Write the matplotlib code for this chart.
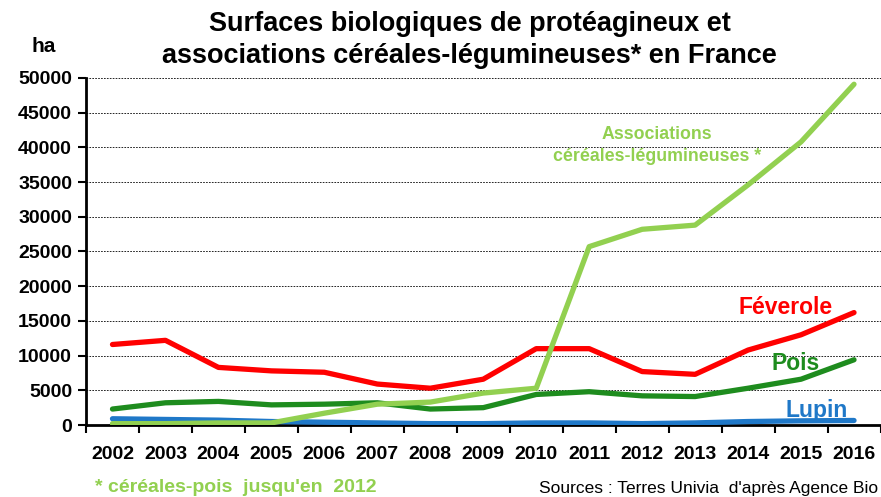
import numpy as np
import matplotlib.pyplot as plt

years = list(range(2002, 2017))
feverole = [11600, 12200, 8300, 7800, 7600, 5900, 5300, 6600, 11000, 11000, 7700, 7300, 10800, 13000, 16200]
pois = [2300, 3200, 3400, 2900, 3000, 3200, 2300, 2500, 4400, 4800, 4200, 4100, 5300, 6600, 9400]
lupin = [900, 800, 700, 500, 400, 300, 200, 200, 300, 300, 200, 300, 500, 600, 650]
associations = [200, 200, 300, 300, 1700, 3000, 3300, 4600, 5300, 25700, 28200, 28800, 34600, 40800, 49100]

c_fev = '#ff0000'
c_pois = '#1e8c1e'
c_lupin = '#1f78c8'
c_asso = '#92d050'

plt.rcParams['font.family'] = ['Liberation Sans', 'DejaVu Sans']

fig = plt.figure(figsize=(8.81, 4.97), dpi=100)
ax = fig.add_axes([86 / 881, 1 - 425 / 497, 794.5 / 881, 347 / 497])

x = np.arange(len(years))
lw = 3.8
ax.plot(x, lupin, color=c_lupin, lw=lw, solid_capstyle='round', zorder=3)
ax.plot(x, associations, color=c_asso, lw=lw, solid_capstyle='round', zorder=4)
ax.plot(x, pois, color=c_pois, lw=lw, solid_capstyle='round', zorder=3)
ax.plot(x, feverole, color=c_fev, lw=lw, solid_capstyle='round', zorder=3)

ax.set_xlim(-0.5, len(years) - 0.5)
ax.set_ylim(0, 50000)
ax.set_yticks(np.arange(0, 50001, 5000))
ax.yaxis.grid(True, color='black', lw=0.6, ls=(0, (2, 1.5)))
ax.set_axisbelow(True)

ax.set_xticks(np.arange(-0.5, len(years), 1))
ax.set_xticklabels([])
ax.set_xticks(x, minor=True)
ax.set_xticklabels([str(y) for y in years], minor=True)
ax.tick_params(axis='x', which='major', length=6, width=1.5, direction='out')
ax.tick_params(axis='x', which='minor', length=0, pad=15)
ax.tick_params(axis='y', length=6, width=1.5, direction='out', pad=4)

narrow = ['Liberation Sans Narrow', 'Liberation Sans', 'DejaVu Sans']
for lab in ax.get_xticklabels(minor=True) + ax.get_yticklabels():
    lab.set_fontfamily(narrow)
    lab.set_fontweight('bold')
    lab.set_fontsize(14)

for side in ['top', 'right']:
    ax.spines[side].set_visible(False)
ax.spines['left'].set_linewidth(2)
ax.spines['bottom'].set_linewidth(2)

fig.text(0.533, 1 - 40 / 497, "Surfaces biologiques de protéagineux et\nassociations céréales-légumineuses* en France",
         ha='center', va='center', fontsize=19.5, fontweight='heavy', linespacing=1.3)
fig.text(44 / 881, 1 - 47 / 497, "ha", ha='center', va='center', fontsize=15,
         fontweight='bold', family=narrow)

ax.text(10.28, 40300, "Associations\ncéréales-légumineuses *", color=c_asso, ha='center', va='center',
        fontsize=12.8, fontweight='bold', linespacing=1.4)
ax.text(12.7, 17000, "Féverole", color=c_fev, ha='center', va='center', fontsize=16.5, fontweight='bold')
ax.text(12.9, 8900, "Pois", color=c_pois, ha='center', va='center', fontsize=16.5, fontweight='bold')
ax.text(13.3, 2150, "Lupin", color=c_lupin, ha='center', va='center', fontsize=16.5, fontweight='bold')

fig.text(95 / 881, 1 - 488 / 497, "* céréales-pois  jusqu'en  2012", color=c_asso, ha='left', va='center',
         fontsize=14, fontweight='bold')
fig.text(878 / 881, 1 - 488 / 497, "Sources : Terres Univia  d'après Agence Bio", color='black',
         ha='right', va='center', fontsize=12.5)

fig.savefig('out.png', dpi=100)
